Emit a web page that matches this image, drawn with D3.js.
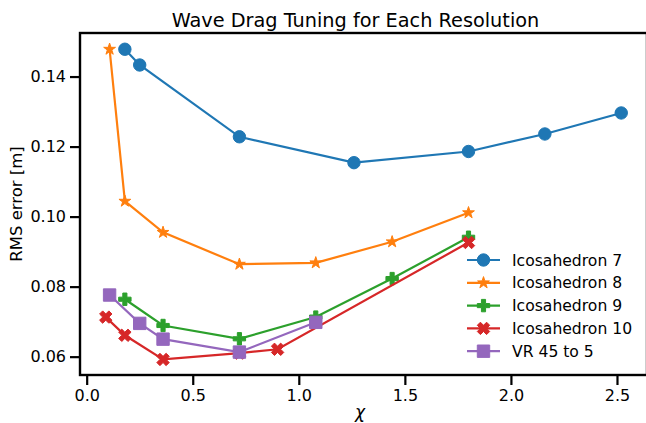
<!DOCTYPE html>
<html>
<head>
<meta charset="utf-8">
<script src="https://cdn.jsdelivr.net/npm/d3@7"></script>
<style>
  body { margin: 0; background: #fff; }
  svg { display: block; font-family: "DejaVu Sans", sans-serif; }
</style>
</head>
<body>
<svg id="chart"></svg>
<script>
// data
const ico7x = [0.18, 0.25, 0.72, 1.26, 1.80, 2.16, 2.52];
const ico7y = [0.1478, 0.1433, 0.1228, 0.1154, 0.1186, 0.1236, 0.1296];
const ico8x = [0.108, 0.18, 0.36, 0.72, 1.08, 1.44, 1.80];
const ico8y = [0.1478, 0.1044, 0.0955, 0.0864, 0.0868, 0.0928, 0.1011];
const ico9x = [0.18, 0.36, 0.72, 1.08, 1.44, 1.80];
const ico9y = [0.0764, 0.0689, 0.0651, 0.0713, 0.0823, 0.0941];
const ico10x = [0.09, 0.18, 0.36, 0.72, 0.90, 1.80];
const ico10y = [0.0713, 0.0661, 0.0592, 0.0610, 0.0621, 0.0926];
const vrx = [0.108, 0.25, 0.36, 0.72, 1.08];
const vry = [0.0776, 0.0695, 0.0650, 0.0613, 0.0698];
const xTicks = [0.0, 0.5, 1.0, 1.5, 2.0, 2.5];
const yTicks = [0.06, 0.08, 0.10, 0.12, 0.14];

const series = [
  {name: "Icosahedron 7", xs: ico7x, ys: ico7y, color: "#1f77b4", marker: "o"},
  {name: "Icosahedron 8", xs: ico8x, ys: ico8y, color: "#ff7f0e", marker: "*"},
  {name: "Icosahedron 9", xs: ico9x, ys: ico9y, color: "#2ca02c", marker: "P"},
  {name: "Icosahedron 10", xs: ico10x, ys: ico10y, color: "#d62728", marker: "X"},
  {name: "VR 45 to 5", xs: vrx, ys: vry, color: "#9467bd", marker: "s"}
];

// layout
const W = 646, H = 423;
const margin = {top: 33, right: -1, bottom: 48, left: 80};
const ms = 12.4; // marker size px

const svg = d3.select("#chart").attr("width", W).attr("height", H);

const x = d3.scaleLinear().domain([-0.0315, 2.6415]).range([margin.left, W - margin.right]);
const y = d3.scaleLinear().domain([0.05476, 0.15244]).range([H - margin.bottom, margin.top]);

// marker paths, centred on 0,0
function markerPath(m, s) {
  const h = s / 2;
  let pts;
  if (m === "o") {
    return d3.arc()({innerRadius: 0, outerRadius: h, startAngle: 0, endAngle: 2 * Math.PI});
  } else if (m === "s") {
    pts = [[-h, -h], [h, -h], [h, h], [-h, h]];
  } else if (m === "*") {
    pts = d3.range(10).map(i => {
      const a = Math.PI / 2 + i * Math.PI / 5;
      const r = (i % 2 === 0 ? 1 : 0.381966) * h;
      return [r * Math.cos(a), -r * Math.sin(a)];
    });
  } else if (m === "P") {
    pts = [[-1, -3], [1, -3], [1, -1], [3, -1], [3, 1], [1, 1], [1, 3], [-1, 3], [-1, 1], [-3, 1], [-3, -1], [-1, -1]]
      .map(p => [p[0] / 6 * s, p[1] / 6 * s]);
  } else if (m === "X") {
    pts = [[-1, -2], [0, -1], [1, -2], [2, -1], [1, 0], [2, 1], [1, 2], [0, 1], [-1, 2], [-2, 1], [-1, 0], [-2, -1]]
      .map(p => [p[0] / 4 * s, p[1] / 4 * s]);
  }
  return "M" + pts.map(p => p.join(",")).join("L") + "Z";
}

// axes
const xAxis = svg.append("g")
    .attr("transform", "translate(0," + (H - margin.bottom) + ")")
    .call(d3.axisBottom(x).tickValues(xTicks).tickFormat(d3.format(".1f")).tickSize(10).tickSizeOuter(0).tickPadding(5));
const yAxis = svg.append("g")
    .attr("transform", "translate(" + margin.left + ",0)")
    .call(d3.axisLeft(y).tickValues(yTicks).tickFormat(d3.format(".2f")).tickSize(10).tickSizeOuter(0).tickPadding(4));

[xAxis, yAxis].forEach(g => {
  g.select(".domain").remove();
  g.selectAll(".tick line").attr("stroke", "#000").attr("stroke-width", 2.2);
  g.selectAll(".tick text").attr("fill", "#000").style("font-size", "16px").style("font-family", "DejaVu Sans");
});

// spines
const spines = svg.append("g").attr("stroke", "#000").attr("stroke-width", 2.4).attr("fill", "none");
spines.append("rect")
    .attr("x", x.range()[0]).attr("y", y.range()[1])
    .attr("width", x.range()[1] - x.range()[0])
    .attr("height", y.range()[0] - y.range()[1]);

// lines and markers
const line = d3.line().x(d => x(d[0])).y(d => y(d[1]));
series.forEach(s => {
  const pts = s.xs.map((v, i) => [v, s.ys[i]]);
  const g = svg.append("g");
  g.append("path").datum(pts).attr("d", line)
      .attr("fill", "none").attr("stroke", s.color).attr("stroke-width", 2.2);
  g.selectAll("path.mk").data(pts).enter().append("path")
      .attr("class", "mk")
      .attr("d", markerPath(s.marker, ms))
      .attr("transform", d => "translate(" + x(d[0]) + "," + y(d[1]) + ")")
      .attr("fill", s.color).attr("stroke", s.color).attr("stroke-width", 1);
});

// legend
const legend = svg.append("g").attr("transform", "translate(467,260)");
series.forEach((s, i) => {
  const row = legend.append("g").attr("transform", "translate(0," + (i * 22.8) + ")");
  row.append("line").attr("x1", 0).attr("x2", 33).attr("y1", 0).attr("y2", 0)
      .attr("stroke", s.color).attr("stroke-width", 2.2);
  row.append("path").attr("d", markerPath(s.marker, ms))
      .attr("transform", "translate(16.5,0)")
      .attr("fill", s.color).attr("stroke", s.color).attr("stroke-width", 1);
  row.append("text").attr("x", 45).attr("y", 5.6)
      .style("font-size", "15.6px").attr("fill", "#000").text(s.name);
});

// title and labels
svg.append("text").attr("x", (margin.left + 631) / 2).attr("y", 26.5)
    .attr("text-anchor", "middle").style("font-size", "19.3px").text("Wave Drag Tuning for Each Resolution");
svg.append("text").attr("x", 360).attr("y", 418)
    .attr("text-anchor", "middle").style("font-size", "17px").style("font-style", "italic").text("χ");
svg.append("text").attr("transform", "translate(22," + ((margin.top + H - margin.bottom) / 2) + ") rotate(-90)")
    .attr("text-anchor", "middle").style("font-size", "16.5px").text("RMS error [m]");
</script>
</body>
</html>
